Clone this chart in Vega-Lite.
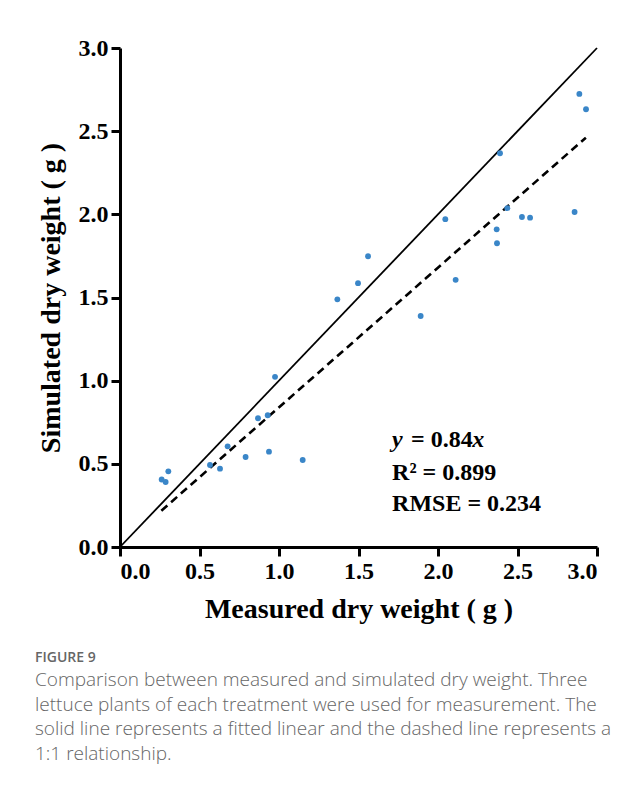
{
  "$schema": "https://vega.github.io/schema/vega-lite/v6.json",
  "autosize": {"type": "none"},
  "padding": {"left": 120, "top": 48, "right": 44, "bottom": 240},
  "width": 477,
  "height": 499,
  "background": "white",
  "config": {
    "view": {"stroke": null},
    "axis": {
      "domainColor": "black", "domainWidth": 3, "tickColor": "black", "tickWidth": 3, "tickSize": 9,
      "grid": false, "labelFont": "Liberation Serif", "labelFontWeight": "bold", "labelFontSize": 24,
      "labelColor": "black", "titleFont": "Liberation Serif", "titleFontWeight": "bold", "titleFontSize": 28,
      "titleColor": "black", "labelPadding": 3
    }
  },
  "title": {
    "text": "FIGURE 9",
    "subtitle": [
      "Comparison between measured and simulated dry weight. Three",
      "lettuce plants of each treatment were used for measurement. The",
      "solid line represents a fitted linear and the dashed line represents a",
      "1:1 relationship."
    ],
    "orient": "bottom", "anchor": "start", "frame": "group", "dx": -85, "offset": 28,
    "font": "Open Sans", "fontSize": 14, "fontWeight": 600, "color": "#666666",
    "subtitleFont": "Open Sans", "subtitleFontSize": 19, "subtitleFontWeight": 300,
    "subtitleColor": "#666666", "subtitleLineHeight": 24.5, "subtitlePadding": 6
  },
  "datasets": {
    "points": [
      {"measured": 0.262, "simulated": 0.406},
      {"measured": 0.287, "simulated": 0.391},
      {"measured": 0.304, "simulated": 0.455},
      {"measured": 0.566, "simulated": 0.493},
      {"measured": 0.629, "simulated": 0.471},
      {"measured": 0.677, "simulated": 0.605},
      {"measured": 0.79, "simulated": 0.541},
      {"measured": 0.868, "simulated": 0.774},
      {"measured": 0.929, "simulated": 0.792},
      {"measured": 0.937, "simulated": 0.573},
      {"measured": 1.149, "simulated": 0.523},
      {"measured": 0.975, "simulated": 1.023},
      {"measured": 1.367, "simulated": 1.489},
      {"measured": 1.497, "simulated": 1.586},
      {"measured": 1.56, "simulated": 1.748},
      {"measured": 1.891, "simulated": 1.389},
      {"measured": 2.889, "simulated": 2.724},
      {"measured": 2.931, "simulated": 2.632},
      {"measured": 2.39, "simulated": 2.367},
      {"measured": 2.046, "simulated": 1.971},
      {"measured": 2.436, "simulated": 2.037},
      {"measured": 2.528, "simulated": 1.984},
      {"measured": 2.579, "simulated": 1.98},
      {"measured": 2.859, "simulated": 2.014},
      {"measured": 2.369, "simulated": 1.91},
      {"measured": 2.371, "simulated": 1.826},
      {"measured": 2.111, "simulated": 1.606}
    ],
    "solid": [{"x": 0, "y": 0, "x2": 3, "y2": 3}],
    "dashed": [{"x": 0.26, "y": 0.218, "x2": 2.93, "y2": 2.461}],
    "ann_italic": [{"x": 1.711, "y": 0.601, "t": "y"}, {"x": 2.215, "y": 0.601, "t": "x"}],
    "ann_bold": [
      {"x": 1.83, "y": 0.601, "t": "= 0.84"},
      {"x": 1.711, "y": 0.403, "t": "R² = 0.899"},
      {"x": 1.711, "y": 0.218, "t": "RMSE = 0.234"}
    ]
  },
  "layer": [
    {
      "data": {"name": "solid"},
      "mark": {"type": "rule", "color": "black", "strokeWidth": 1.8},
      "encoding": {
        "x": {"field": "x", "type": "quantitative", "scale": {"domain": [0, 3]}, "axis": {"values": [0, 0.5, 1, 1.5, 2, 2.5, 3], "format": ".1f", "title": "Measured dry weight ( g )", "titlePadding": 12}},
        "y": {"field": "y", "type": "quantitative", "scale": {"domain": [0, 3]}, "axis": {"values": [0, 0.5, 1, 1.5, 2, 2.5, 3], "format": ".1f", "title": "Simulated dry weight ( g )", "titlePadding": 13}},
        "x2": {"field": "x2"},
        "y2": {"field": "y2"}
      }
    },
    {
      "data": {"name": "dashed"},
      "mark": {"type": "rule", "color": "black", "strokeWidth": 2.6, "strokeDash": [8, 5]},
      "encoding": {
        "x": {"field": "x", "type": "quantitative"},
        "y": {"field": "y", "type": "quantitative"},
        "x2": {"field": "x2"},
        "y2": {"field": "y2"}
      }
    },
    {
      "data": {"name": "points"},
      "mark": {"type": "circle", "color": "#3a86c8", "opacity": 1, "size": 34},
      "encoding": {
        "x": {"field": "measured", "type": "quantitative"},
        "y": {"field": "simulated", "type": "quantitative"}
      }
    },
    {
      "data": {"name": "ann_italic"},
      "mark": {"type": "text", "font": "Liberation Serif", "fontWeight": "bold", "fontStyle": "italic", "fontSize": 24, "align": "left", "baseline": "alphabetic", "color": "black"},
      "encoding": {
        "x": {"field": "x", "type": "quantitative"},
        "y": {"field": "y", "type": "quantitative"},
        "text": {"field": "t"}
      }
    },
    {
      "data": {"name": "ann_bold"},
      "mark": {"type": "text", "font": "Liberation Serif", "fontWeight": "bold", "fontSize": 24, "align": "left", "baseline": "alphabetic", "color": "black"},
      "encoding": {
        "x": {"field": "x", "type": "quantitative"},
        "y": {"field": "y", "type": "quantitative"},
        "text": {"field": "t"}
      }
    }
  ]
}
